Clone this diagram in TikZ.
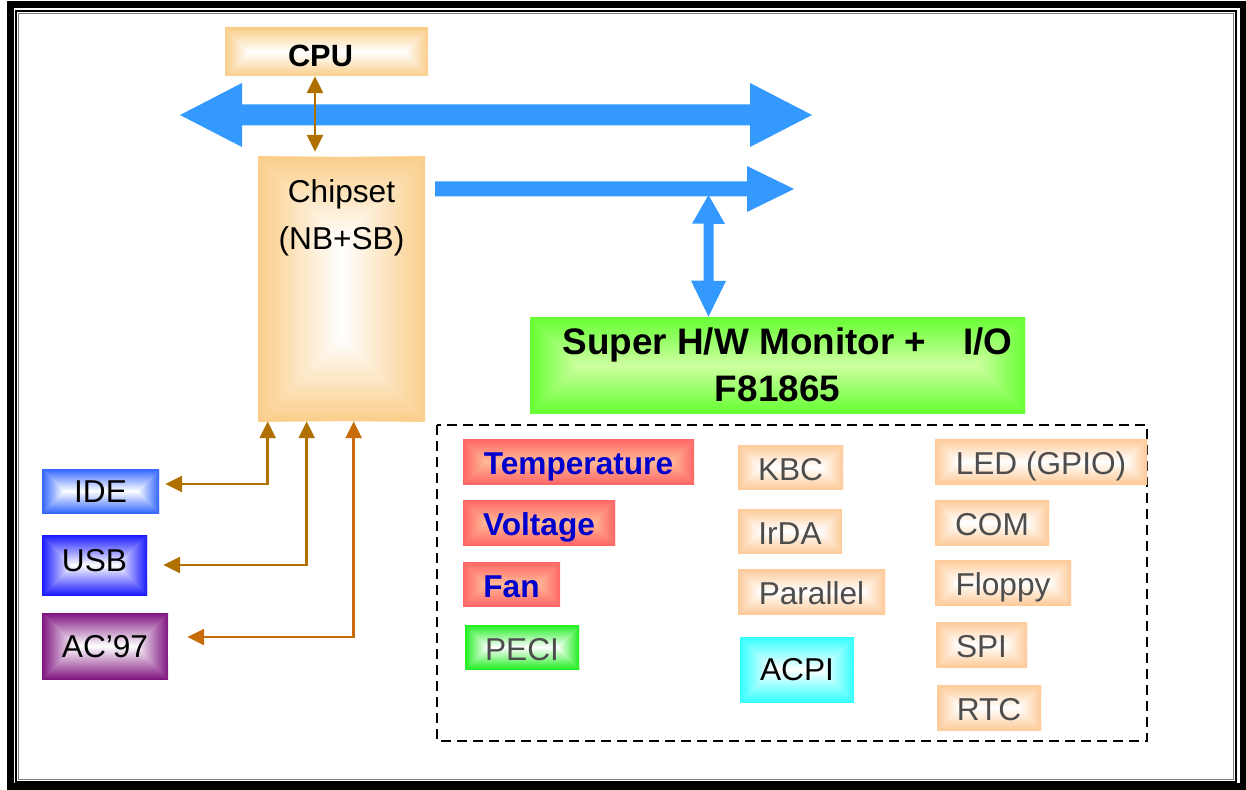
\documentclass[tikz,border=0pt]{standalone}
\usepackage{fontspec}
\setmainfont{Liberation Sans}
\usetikzlibrary{arrows.meta,positioning}

\newlength\pxu
\setlength\pxu{0.02cm}

\definecolor{busblue}{RGB}{51,153,255}
\definecolor{wirebrown}{RGB}{176,112,0}
\definecolor{wireorange}{RGB}{200,108,10}
\definecolor{chiporange}{RGB}{250,206,138}
\definecolor{peach}{RGB}{254,202,152}
\definecolor{hwred}{RGB}{255,102,102}
\definecolor{hwredmid}{RGB}{255,186,150}
\definecolor{siogreen}{RGB}{102,255,51}
\definecolor{siogreenmid}{RGB}{205,255,160}
\definecolor{pecigreen}{RGB}{34,238,34}
\definecolor{acpicyan}{RGB}{51,255,255}
\definecolor{idebl}{RGB}{51,102,255}
\definecolor{usbbl}{RGB}{26,26,255}
\definecolor{acpurple}{RGB}{128,21,128}
\definecolor{textgray}{RGB}{77,77,77}
\definecolor{hwtext}{RGB}{0,0,204}

\tikzset{
  glow/.style 2 args={path picture={
    \pgfpointanchor{path picture bounding box}{south west}\pgfgetlastxy{\gxa}{\gya}
    \pgfpointanchor{path picture bounding box}{north east}\pgfgetlastxy{\gxb}{\gyb}
    \pgfmathsetlengthmacro{\gs}{min(\gxb-\gxa,\gyb-\gya)/2}
    \ifdim\dimexpr\gxb-\gxa\relax<\dimexpr\gyb-\gya\relax
      \shade[left color=#1,right color=#1,middle color=#2] (\gxa,\gya) rectangle (\gxb,\gyb);
      \begin{scope}
        \clip (\gxa,\gya) -- ++(\gs,\gs) -- (\gxb,\gya) -- cycle;
        \shade[top color=#2,bottom color=#1] (\gxa,\gya) rectangle (\gxb,\gya+\gs);
      \end{scope}
      \begin{scope}
        \clip (\gxa,\gyb) -- ++(\gs,-\gs) -- (\gxb,\gyb) -- cycle;
        \shade[top color=#1,bottom color=#2] (\gxa,\gyb-\gs) rectangle (\gxb,\gyb);
      \end{scope}
    \else
      \shade[top color=#1,bottom color=#1,middle color=#2] (\gxa,\gya) rectangle (\gxb,\gyb);
      \begin{scope}
        \clip (\gxa,\gya) -- ++(\gs,\gs) -- (\gxa,\gyb) -- cycle;
        \shade[left color=#1,right color=#2] (\gxa,\gya) rectangle (\gxa+\gs,\gyb);
      \end{scope}
      \begin{scope}
        \clip (\gxb,\gya) -- ++(-\gs,\gs) -- (\gxb,\gyb) -- cycle;
        \shade[left color=#2,right color=#1] (\gxb-\gs,\gya) rectangle (\gxb,\gyb);
      \end{scope}
    \fi}},
  devbox/.style 2 args={glow={#1}{#2}, inner sep=0pt, text height=15pt, text depth=0pt,
    font=\fontsize{18}{21.6}\selectfont},
  iobox/.style={devbox={peach}{white}, text=textgray, minimum height=45\pxu},
  hwbox/.style={devbox={hwred}{hwredmid}, text=hwtext, minimum height=45\pxu,
    font=\bfseries\fontsize{18}{21.6}\selectfont},
  bus/.style={fill=busblue},
  wire/.style={draw=#1, line width=1.5pt,
    {Triangle[length=9.5pt,width=9pt]}-{Triangle[length=9.5pt,width=9pt]}},
  wire/.default=wirebrown
}

\begin{document}
\begin{tikzpicture}[x=1\pxu, y=-1\pxu]
        \useasboundingbox (0,0) rectangle (1246,790);
        % frame
        \draw[line width=7\pxu] (10,4.5) rectangle (1243,786.5);
        \draw[line width=2\pxu] (16,11) rectangle (1236,781.5);
        \draw[gray, line width=1\pxu] (18.5,14) rectangle (1233.5,779);
        %
        \node[devbox={chiporange}{white}, text height=17pt, font=\bfseries\fontsize{17.5}{21}\selectfont,
              minimum width=203\pxu, minimum height=48\pxu] (cpu) at (326.5,52) {\hspace*{-12\pxu}CPU};
        \node[glow={chiporange}{white}, minimum width=167\pxu, minimum height=264\pxu] (chipset) at (341.5,289) {};
        \node[align=center, inner sep=0pt, font=\fontsize{18}{26.7}\selectfont,
              below=23\pxu of chipset.north] (chiptext) {Chipset\\(NB+SB)};
        \node[glow={siogreen}{siogreenmid}, inner sep=0pt, align=center, font=\bfseries\fontsize{21}{26.7}\selectfont,
              minimum width=495\pxu, minimum height=96\pxu] (sio) at (777.5,365) {\hspace*{20\pxu}Super H/W Monitor +\quad I/O\\F81865};
        %
        \node[devbox={idebl}{white}, text height=12.9pt, minimum width=117\pxu, minimum height=44\pxu] (ide) at (100.5,491) {IDE};
        \node[devbox={usbbl}{white}, text height=7.5pt, minimum width=105\pxu, minimum height=60\pxu] (usb) at (94.5,565) {USB};
        \node[devbox={acpurple}{white}, text height=12.9pt, minimum width=126\pxu, minimum height=66\pxu] (ac97) at (105,646) {AC’97};
        %
        \draw[line width=2.7\pxu, dash pattern=on 10\pxu off 6\pxu] (437,425) rectangle (1147,741);
        \node[hwbox, minimum width=231\pxu] (temp) at (578.5,461.5) {Temperature};
        \node[hwbox, minimum width=152\pxu] (volt) at (539,522.5) {Voltage};
        \node[hwbox, minimum width=97\pxu, minimum height=44\pxu] (fan) at (511.5,584) {Fan};
        \node[devbox={pecigreen}{white}, text=textgray, minimum width=114\pxu, minimum height=44\pxu] (peci) at (522,647) {PECI};
        \node[iobox, minimum width=105\pxu, minimum height=44\pxu] (kbc) at (790.5,467) {KBC};
        \node[iobox, minimum width=104\pxu, minimum height=44\pxu] (irda) at (790,531) {IrDA};
        \node[iobox, minimum width=147\pxu] (par) at (811.5,591.5) {Parallel};
        \node[devbox={acpicyan}{white}, text height=12.9pt, minimum width=114\pxu, minimum height=65\pxu] (acpi) at (797,669.5) {ACPI};
        \node[iobox, minimum width=212\pxu] (led) at (1041,461.5) {LED (GPIO)};
        \node[iobox, minimum width=114\pxu] (com) at (992,522.5) {COM};
        \node[iobox, minimum width=136\pxu] (fdd) at (1003,582.5) {Floppy};
        \node[iobox, minimum width=91\pxu] (spi) at (981.5,644.5) {SPI};
        \node[iobox, minimum width=104\pxu] (rtc) at (989,707.5) {RTC};
        %
        \coordinate (hostW) at (180,115);
        \coordinate (pciW) at (435,189);
        \coordinate (lpctap) at (708.5,195);
        \fill[bus] (hostW) -- ++(62,-32) -- ++(0,21.5) -- ++(508,0) -- ++(0,-21.5) -- ++(62,32)
                   -- ++(-62,32) -- ++(0,-21.5) -- ++(-508,0) -- ++(0,21.5) -- cycle;
        \fill[bus] (pciW) -- ++(0,-7.5) -- ++(312,0) -- ++(0,-15.5) -- ++(47,23)
                   -- ++(-47,23) -- ++(0,-15.5) -- ++(-312,0) -- cycle;
        \fill[bus] (lpctap) -- ++(16.5,29) -- ++(-11.5,0) -- ++(0,57) -- ++(12.5,0) -- (sio.north -| lpctap)
                   -- ++(-17.5,-36) -- ++(12.5,0) -- ++(0,-57) -- ++(-11.5,0) -- cycle;
        %
        \coordinate (cpuport) at (315,0);
        \coordinate (chiptop) at ([yshift=5\pxu]chipset.north);
        \draw[wire] (cpu.south -| cpuport) -- (chiptop -| cpuport);
        %
        \coordinate (ideport) at ([xshift=10\pxu]chipset.south west);
        \coordinate (usbport) at ([xshift=49\pxu]chipset.south west);
        \coordinate (acport) at ([xshift=96\pxu]chipset.south west);
        \draw[wire] ([xshift=6\pxu, yshift=7\pxu]ide.east) -| (ideport);
        \draw[wire] ([xshift=16\pxu]usb.east) -| (usbport);
        \draw[wire=wireorange] ([xshift=19\pxu, yshift=9\pxu]ac97.east) -| (acport);
    \end{tikzpicture}
\end{document}
